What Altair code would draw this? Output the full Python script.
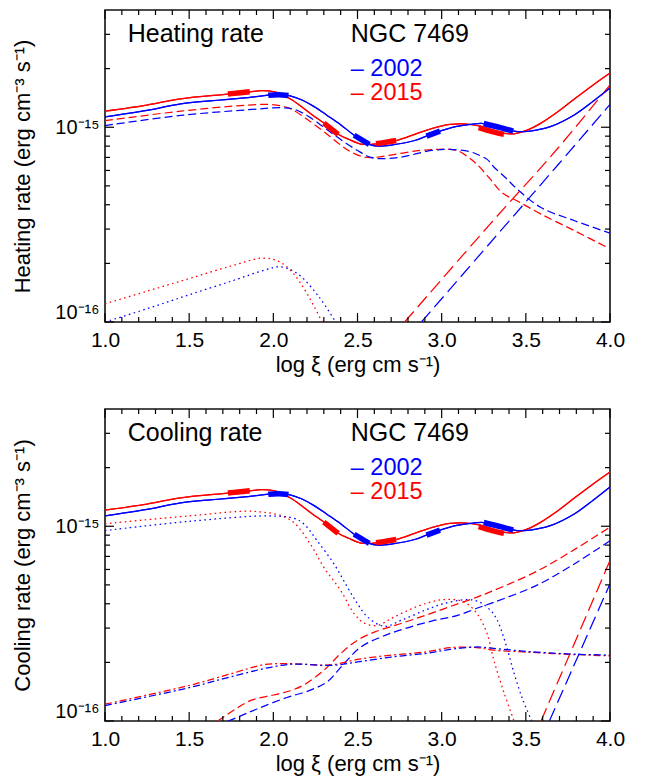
import altair as alt
import pandas as pd

# ---------------- data (y values in units of 1e-15 erg cm^-3 s^-1) ----------------
UNIT = 1e-15
YEARS = ["2002", "2015"]
COLORS = ["#0000ff", "#ff0000"]

# total heating = total cooling (solid)
TOT_X_2015 = [1.0, 1.25, 1.45, 1.73, 1.86, 1.93, 2.0, 2.05, 2.1, 2.16, 2.23, 2.30, 2.385, 2.45, 2.52, 2.56,
              2.61, 2.73, 2.84, 2.94, 3.05, 3.12, 3.18, 3.23, 3.30, 3.37, 3.43, 3.50, 3.59, 3.69, 3.79, 3.90, 4.0]
TOT_Y_2015 = [1.21, 1.30, 1.40, 1.48, 1.52, 1.54, 1.525, 1.48, 1.40, 1.29, 1.16, 1.05, 0.92, 0.865, 0.82, 0.816,
              0.822, 0.855, 0.92, 0.985, 1.035, 1.04, 1.03, 1.01, 0.96, 0.93, 0.925, 0.96, 1.05, 1.20, 1.40, 1.65, 1.90]
TOT_X_2002 = [1.0, 1.25, 1.45, 1.85, 1.97, 2.05, 2.1, 2.17, 2.24, 2.32, 2.40, 2.48, 2.57, 2.62, 2.70, 2.84,
              2.91, 2.99, 3.09, 3.17, 3.25, 3.34, 3.43, 3.49, 3.57, 3.65, 3.79, 3.90, 4.0]
TOT_Y_2002 = [1.13, 1.22, 1.32, 1.42, 1.46, 1.47, 1.45, 1.38, 1.28, 1.15, 1.03, 0.91, 0.816, 0.80, 0.81, 0.855,
              0.90, 0.955, 1.01, 1.035, 1.045, 1.0, 0.955, 0.95, 0.97, 1.01, 1.16, 1.36, 1.59]

# thick (highlighted) pieces of the total curves
THICK_X_2015 = [[1.73, 1.79, 1.86], [2.30, 2.385], [2.61, 2.67, 2.73], [3.22, 3.30, 3.37]]
THICK_Y_2015 = [[1.48, 1.50, 1.52], [1.05, 0.92], [0.822, 0.838, 0.855], [0.995, 0.95, 0.92]]
THICK_X_2002 = [[1.97, 2.03, 2.09], [2.48, 2.57], [2.91, 2.99], [3.25, 3.34, 3.425]]
THICK_Y_2002 = [[1.46, 1.47, 1.455], [0.91, 0.816], [0.90, 0.955], [1.045, 1.0, 0.955]]

# heating panel components
HDASH_X_2015 = [1.0, 1.45, 1.85, 1.98, 2.06, 2.114, 2.2, 2.3, 2.4, 2.47, 2.54, 2.60, 2.74, 2.87, 2.97, 3.05,
                3.10, 3.16, 3.21, 3.29, 3.36, 3.45, 3.59, 3.79, 3.97, 4.0]
HDASH_Y_2015 = [1.08, 1.21, 1.30, 1.31, 1.28, 1.23, 1.10, 0.95, 0.81, 0.74, 0.703, 0.70, 0.73, 0.76, 0.77, 0.77,
                0.755, 0.70, 0.645, 0.54, 0.46, 0.418, 0.358, 0.294, 0.245, 0.238]
HDASH_X_2002 = [1.0, 1.45, 1.85, 2.05, 2.12, 2.2, 2.3, 2.4, 2.5, 2.58, 2.64, 2.75, 2.94, 3.05, 3.17, 3.22,
                3.27, 3.31, 3.38, 3.45, 3.59, 3.79, 4.0]
HDASH_Y_2002 = [1.02, 1.15, 1.23, 1.26, 1.24, 1.15, 1.0, 0.865, 0.76, 0.70, 0.69, 0.70, 0.76, 0.77, 0.748, 0.72,
                0.684, 0.625, 0.55, 0.48, 0.387, 0.331, 0.286]
HLONG_X_2015 = [2.78, 3.29, 3.69, 4.0]
HLONG_Y_2015 = [0.10, 0.32, 0.78, 1.65]
HLONG_X_2002 = [2.88, 3.29, 3.69, 4.0]
HLONG_Y_2002 = [0.10, 0.256, 0.64, 1.31]
HDOT_X_2015 = [1.0, 1.25, 1.5, 1.75, 1.94, 2.04, 2.12, 2.2, 2.29]
HDOT_Y_2015 = [0.124, 0.144, 0.167, 0.194, 0.213, 0.203, 0.177, 0.14, 0.10]
HDOT_X_2002 = [1.0, 1.25, 1.5, 1.75, 1.95, 2.04, 2.14, 2.27, 2.37]
HDOT_Y_2002 = [0.100, 0.117, 0.138, 0.162, 0.185, 0.192, 0.178, 0.135, 0.10]

# cooling panel components
CDOT_X_2015 = [1.0, 1.5, 1.9, 2.1, 2.22, 2.30, 2.40, 2.48, 2.54, 2.62, 2.70, 2.80, 2.90, 3.01, 3.13, 3.21,
               3.27, 3.31, 3.37, 3.43]
CDOT_Y_2015 = [1.03, 1.13, 1.19, 1.08, 0.81, 0.615, 0.468, 0.356, 0.318, 0.31, 0.336, 0.37, 0.40, 0.42, 0.41, 0.356,
               0.281, 0.205, 0.14, 0.10]
CDOT_X_2002 = [1.0, 1.5, 1.97, 2.12, 2.18, 2.26, 2.36, 2.44, 2.50, 2.56, 2.66, 2.76, 2.90, 3.01, 3.15, 3.22,
               3.29, 3.33, 3.38, 3.43, 3.48, 3.535]
CDOT_Y_2002 = [0.95, 1.06, 1.13, 1.10, 1.03, 0.843, 0.641, 0.487, 0.40, 0.342, 0.306, 0.329, 0.37, 0.40, 0.42, 0.41,
               0.37, 0.33, 0.25, 0.176, 0.13, 0.10]
CDASH_X_2015 = [1.67, 1.76, 1.87, 2.0, 2.10, 2.18, 2.30, 2.40, 2.50, 2.60, 2.74, 2.90, 3.05, 3.21, 3.31, 3.57, 3.80, 4.0]
CDASH_Y_2015 = [0.10, 0.113, 0.128, 0.136, 0.143, 0.153, 0.182, 0.222, 0.26, 0.286, 0.313, 0.348, 0.387, 0.433,
                0.468, 0.59, 0.77, 0.99]
CDASH_X_2002 = [1.73, 1.78, 1.91, 2.08, 2.22, 2.32, 2.42, 2.52, 2.64, 2.78, 2.94, 3.09, 3.23, 3.31, 3.57, 3.80, 4.0]
CDASH_Y_2002 = [0.10, 0.104, 0.116, 0.132, 0.144, 0.159, 0.197, 0.24, 0.27, 0.298, 0.326, 0.348, 0.385, 0.407,
                0.50, 0.65, 0.843]
CDD_X_2015 = [1.0, 1.25, 1.51, 1.75, 1.95, 2.1, 2.22, 2.34, 2.5, 2.7, 2.9, 3.05, 3.21, 3.31, 3.5, 3.75, 4.0]
CDD_Y_2015 = [0.122, 0.136, 0.153, 0.175, 0.195, 0.197, 0.195, 0.194, 0.207, 0.218, 0.226, 0.238, 0.238, 0.231,
              0.226, 0.22, 0.216]
CDD_X_2002 = [1.0, 1.51, 1.75, 2.0, 2.12, 2.34, 2.5, 2.7, 2.9, 3.05, 3.21, 3.31, 3.5, 3.75, 4.0]
CDD_Y_2002 = [0.12, 0.149, 0.169, 0.19, 0.196, 0.193, 0.201, 0.213, 0.222, 0.233, 0.24, 0.236, 0.228, 0.221, 0.218]
CLONG_X_2015 = [3.59, 3.74, 4.0]
CLONG_Y_2015 = [0.10, 0.20, 0.667]
CLONG_X_2002 = [3.64, 3.78, 4.0]
CLONG_Y_2002 = [0.10, 0.188, 0.507]

# axis ticks
X_MAJOR = [1.0, 1.5, 2.0, 2.5, 3.0, 3.5, 4.0]
X_MINOR = [1.1, 1.2, 1.3, 1.4, 1.6, 1.7, 1.8, 1.9, 2.1, 2.2, 2.3, 2.4, 2.6, 2.7, 2.8, 2.9,
           3.1, 3.2, 3.3, 3.4, 3.6, 3.7, 3.8, 3.9]
Y_MAJOR = [1e-16, 1e-15]
Y_MINOR = [2e-16, 3e-16, 4e-16, 5e-16, 6e-16, 7e-16, 8e-16, 9e-16, 2e-15, 3e-15]
Y_DOMAIN = [1e-16, 4e-15]
X_DOMAIN = [1.0, 4.0]

# annotation texts (positions in data coordinates)
ANN_X = [1.135, 2.46, 2.46, 2.46]
ANN_Y = [3.02, 3.02, 1.98, 1.50]
ANN_COL = ["#000000", "#000000", "#0000ff", "#ff0000"]
ANN_SIZE = [25, 25, 23.5, 23.5]

W, H = 505, 312
FONT = "Liberation Sans"
INTERP = "catmull-rom"

xs = alt.Scale(domain=X_DOMAIN, nice=False, zero=False)
ys = alt.Scale(type="log", domain=Y_DOMAIN, nice=False)
cs = alt.Scale(domain=YEARS, range=COLORS)

XAX = alt.Axis(values=X_MAJOR, format=".1f", title="log ξ (erg cm s⁻¹)", ticks=False, tickSize=0,
               domain=False, grid=False, labelFontSize=21, labelPadding=7, labelFlush=False,
               labelOverlap=False, titleFontSize=22, titleFontWeight="normal", titlePadding=4,
               labelColor="black", titleColor="black")


def yax(title):
    return alt.Axis(values=Y_MAJOR, labelExpr="datum.value < 5e-16 ? '10⁻¹⁶' : '10⁻¹⁵'", title=title,
                    ticks=False, tickSize=0, domain=False, grid=False, labelFontSize=20, labelPadding=6,
                    labelFlush=True, labelOverlap=False, titleFontSize=22, titleFontWeight="normal",
                    titlePadding=20, labelColor="black", titleColor="black")


def long_df(pairs):
    rows = []
    for year, xv, yv in pairs:
        for a, b in zip(xv, yv):
            rows.append({"x": a, "y": b * UNIT, "year": year})
    return pd.DataFrame(rows)


def thick_df():
    rows = []
    for year, xl, yl in [("2015", THICK_X_2015, THICK_Y_2015), ("2002", THICK_X_2002, THICK_Y_2002)]:
        for i, (xv, yv) in enumerate(zip(xl, yl)):
            for a, b in zip(xv, yv):
                rows.append({"x": a, "y": b * UNIT, "year": year, "seg": f"{year}-{i}"})
    return pd.DataFrame(rows)


def tick_layers(ya):
    layers = []
    for vals, L in [(X_MAJOR, 9), (X_MINOR, 5)]:
        base = alt.Chart(pd.DataFrame({"x": vals}))
        layers.append(base.mark_rule(color="black", strokeWidth=1.2).encode(
            x=alt.X("x:Q", scale=xs, axis=XAX), y=alt.value(H), y2=alt.value(H - L)))
        layers.append(base.mark_rule(color="black", strokeWidth=1.2).encode(
            x=alt.X("x:Q", scale=xs, axis=XAX), y=alt.value(0), y2=alt.value(L)))
    for vals, L in [(Y_MAJOR, 9), (Y_MINOR, 5)]:
        base = alt.Chart(pd.DataFrame({"y": vals}))
        layers.append(base.mark_rule(color="black", strokeWidth=1.2).encode(
            y=alt.Y("y:Q", scale=ys, axis=ya), x=alt.value(0), x2=alt.value(L)))
        layers.append(base.mark_rule(color="black", strokeWidth=1.2).encode(
            y=alt.Y("y:Q", scale=ys, axis=ya), x=alt.value(W), x2=alt.value(W - L)))
    return layers


def line_layer(df, ya, dash=None, width=1.25):
    kw = dict(strokeWidth=width, interpolate=INTERP, clip=True)
    if dash is not None:
        kw["strokeDash"] = dash
    return alt.Chart(df).mark_line(**kw).encode(
        x=alt.X("x:Q", scale=xs, axis=XAX),
        y=alt.Y("y:Q", scale=ys, axis=ya),
        color=alt.Color("year:N", scale=cs, legend=None),
        detail="year:N",
        order=alt.Order("x:Q"),
    )


def text_layer(label, ya):
    df = pd.DataFrame({"x": ANN_X, "y": [v * UNIT for v in ANN_Y],
                       "t": [label, "NGC 7469", "– 2002", "– 2015"], "c": ANN_COL, "s": ANN_SIZE})
    return alt.Chart(df).mark_text(align="left", baseline="middle", font=FONT).encode(
        x=alt.X("x:Q", scale=xs, axis=XAX), y=alt.Y("y:Q", scale=ys, axis=ya),
        text="t:N", color=alt.Color("c:N", scale=None), size=alt.Size("s:Q", scale=None))


def panel(label, ytitle, comps):
    ya = yax(ytitle)
    solid = long_df([("2015", TOT_X_2015, TOT_Y_2015), ("2002", TOT_X_2002, TOT_Y_2002)])
    layers = [line_layer(solid, ya)]
    for df, dash in comps:
        layers.append(line_layer(df, ya, dash=dash))
    layers.append(line_layer(solid, ya))
    thick = alt.Chart(thick_df()).mark_line(strokeWidth=5.5, strokeCap="butt", clip=True,
                                            interpolate=INTERP).encode(
        x=alt.X("x:Q", scale=xs, axis=XAX), y=alt.Y("y:Q", scale=ys, axis=ya),
        color=alt.Color("year:N", scale=cs, legend=None), detail="seg:N", order=alt.Order("x:Q"))
    layers.append(thick)
    layers.append(text_layer(label, ya))
    layers += tick_layers(ya)
    return alt.layer(*layers).properties(width=W, height=H)


SHORT = [8, 4]
LONG = [14, 6]
DOT = [1.6, 3.4]
DASHDOT = [7, 3, 2, 3]

heat_comps = [
    (long_df([("2015", HDASH_X_2015, HDASH_Y_2015), ("2002", HDASH_X_2002, HDASH_Y_2002)]), SHORT),
    (long_df([("2015", HLONG_X_2015, HLONG_Y_2015), ("2002", HLONG_X_2002, HLONG_Y_2002)]), LONG),
    (long_df([("2015", HDOT_X_2015, HDOT_Y_2015), ("2002", HDOT_X_2002, HDOT_Y_2002)]), DOT),
]
cool_comps = [
    (long_df([("2015", CDOT_X_2015, CDOT_Y_2015), ("2002", CDOT_X_2002, CDOT_Y_2002)]), DOT),
    (long_df([("2015", CDASH_X_2015, CDASH_Y_2015), ("2002", CDASH_X_2002, CDASH_Y_2002)]), SHORT),
    (long_df([("2015", CDD_X_2015, CDD_Y_2015), ("2002", CDD_X_2002, CDD_Y_2002)]), DASHDOT),
    (long_df([("2015", CLONG_X_2015, CLONG_Y_2015), ("2002", CLONG_X_2002, CLONG_Y_2002)]), LONG),
]

top = panel("Heating rate", "Heating rate (erg cm⁻³ s⁻¹)", heat_comps)
bottom = panel("Cooling rate", "Cooling rate (erg cm⁻³ s⁻¹)", cool_comps)

chart = alt.vconcat(top, bottom, spacing=31).properties(
    padding={"left": 3, "top": 0, "right": 5, "bottom": 2}
).configure(font=FONT).configure_view(stroke="#111111", strokeWidth=1.6)

chart.save("out.html", embed_options={"renderer": "svg", "actions": False})
